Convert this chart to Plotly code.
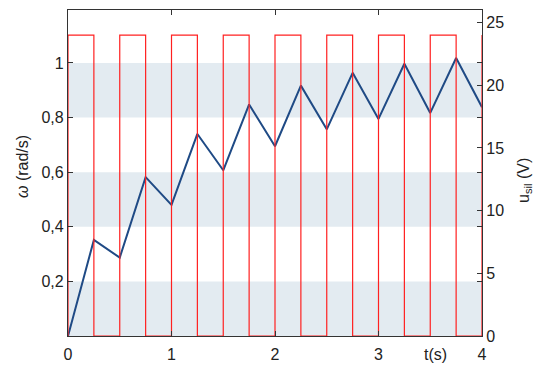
import plotly.graph_objects as go

# Angular speed samples (rad/s) at switching instants
t_omega = [0, 0.25, 0.5, 0.75, 1.0, 1.25, 1.5, 1.75, 2.0, 2.25, 2.5, 2.75, 3.0, 3.25, 3.5, 3.75, 4.0]
omega = [0, 0.352, 0.287, 0.582, 0.48, 0.74, 0.607, 0.848, 0.695, 0.917, 0.757, 0.964, 0.795, 0.997, 0.817, 1.018, 0.838]

# PWM supply voltage (V): 24 V for 0.25 s, then 0 V for 0.25 s
t_u = [0, 0, 0.25, 0.25, 0.5, 0.5, 0.75, 0.75, 1.0, 1.0, 1.25, 1.25, 1.5, 1.5, 1.75, 1.75,
       2.0, 2.0, 2.25, 2.25, 2.5, 2.5, 2.75, 2.75, 3.0, 3.0, 3.25, 3.25, 3.5, 3.5, 3.75, 3.75, 4.0, 4.0]
u_sil = [0, 24, 24, 0, 0, 24, 24, 0, 0, 24, 24, 0, 0, 24, 24, 0,
         0, 24, 24, 0, 0, 24, 24, 0, 0, 24, 24, 0, 0, 24, 24, 0, 0, 24]

omega_ticks = [0.2, 0.4, 0.6, 0.8, 1.0]
omega_ticklabels = ["0,2", "0,4", "0,6", "0,8", "1"]
u_ticks = [0, 5, 10, 15, 20, 25]
t_ticks = [0, 1, 2, 3, 4]
bands = [(0, 0.2), (0.4, 0.6), (0.8, 1.0)]

font = dict(family="Liberation Sans, Arial, sans-serif", size=16, color="#222")

L, R, T, B = 68, 51, 10, 29
W, H = 533, 365
pw, ph = W - L - R, H - T - B

fig = go.Figure()
fig.add_trace(go.Scatter(x=t_u, y=u_sil, mode="lines", yaxis="y2",
                         line=dict(color="#ff2020", width=1.2), showlegend=False))
fig.add_trace(go.Scatter(x=t_omega, y=omega, mode="lines",
                         line=dict(color="#1f4a85", width=2), showlegend=False))

for lo, hi in bands:
    fig.add_shape(type="rect", xref="x", yref="y", x0=0, x1=4, y0=lo, y1=hi,
                  fillcolor="#e3ebf1", line=dict(width=0), layer="below")


def px_to_paper(x, y):
    return (x - L) / pw, (H - B - y) / ph


# axis titles placed by pixel position
for text, (x, y), angle in [("t(s)", (435, 355), 0),
                            ("<i>ω</i> (rad/s)", (22, 167), -90),
                            ("u<sub>sil</sub> (V)", (524, 181), -90)]:
    px, py = px_to_paper(x, y)
    fig.add_annotation(x=px, y=py, xref="paper", yref="paper", text=text,
                       textangle=angle, showarrow=False, font=font,
                       xanchor="center", yanchor="middle")

axis_common = dict(ticks="inside", ticklen=5, tickcolor="#333", showline=True,
                   linecolor="#333", linewidth=1.2, showgrid=False, zeroline=False,
                   automargin=False)

fig.update_layout(
    width=W, height=H,
    margin=dict(l=L, r=R, t=T, b=B),
    plot_bgcolor="white", paper_bgcolor="white",
    font=font,
    xaxis=dict(range=[0, 4], tickvals=t_ticks, mirror="ticks",
               ticklabelstandoff=4, **axis_common),
    yaxis=dict(range=[0, 1.194], tickvals=omega_ticks, ticktext=omega_ticklabels,
               mirror="ticks", **axis_common),
    yaxis2=dict(range=[0, 26.0], tickvals=u_ticks, overlaying="y", side="right",
                **axis_common),
)

fig.write_html("out.html")
